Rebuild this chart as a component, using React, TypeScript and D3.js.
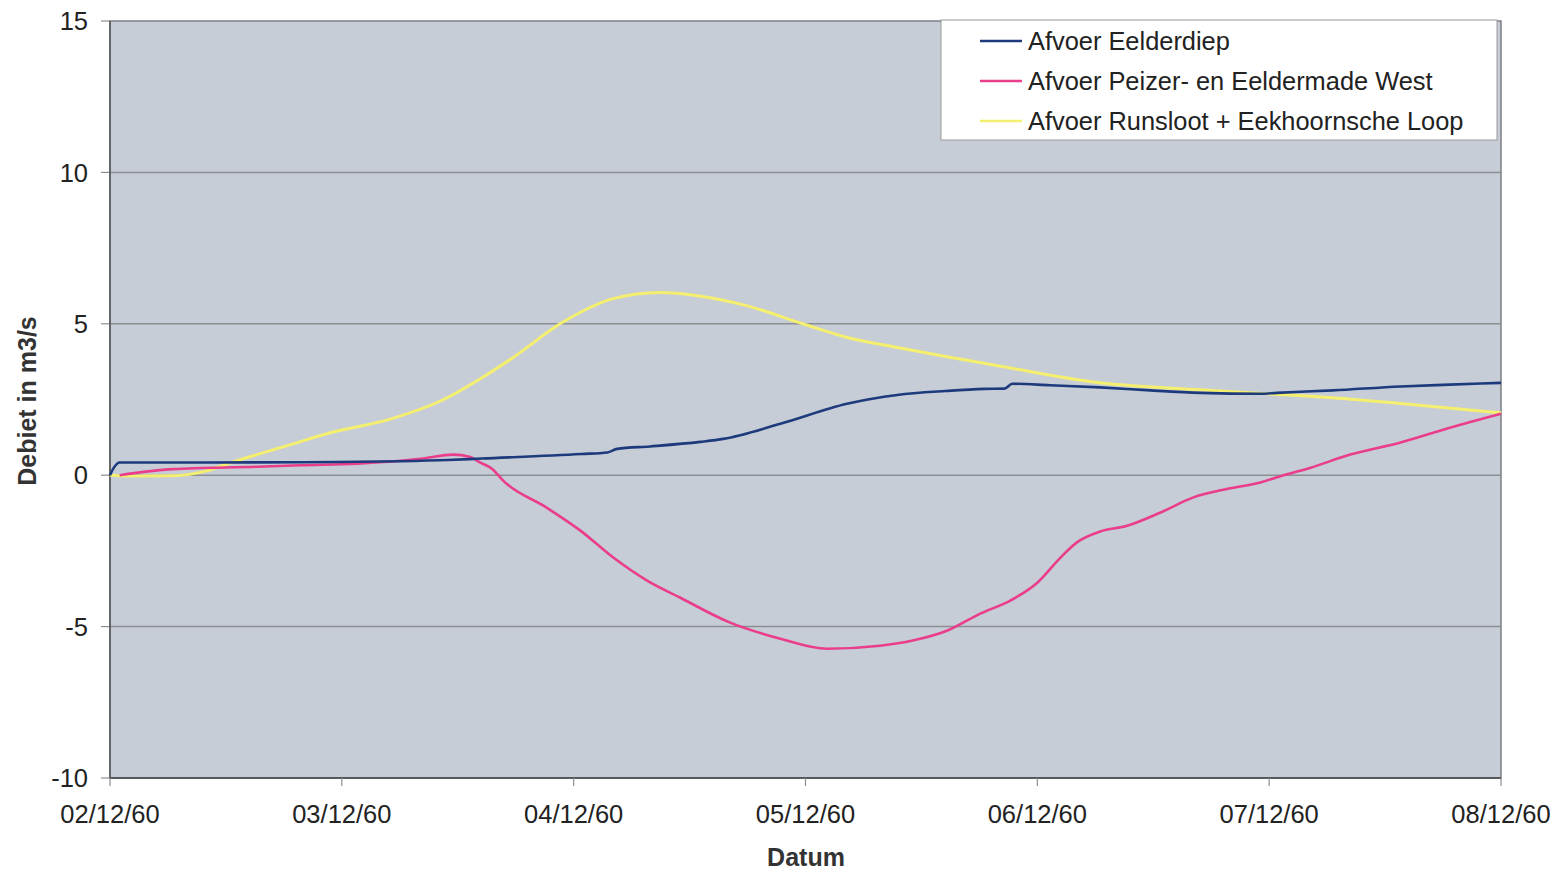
import React from "react";
import * as d3 from "d3";

// Hours since 02/12/60 00:00 and discharge (m3/s)
const eelderdiepHours = [0, 0.4, 1, 10, 20, 30, 35, 38.5, 48.8, 51.5, 52.5, 55.9, 61.1, 63.5, 69.4, 76.3, 81.5, 86.5, 90.5, 92.6, 93.4, 97.3, 102.5, 107.7, 112.9, 119.1, 120.8, 126.6, 133.6, 138.7, 144];
const eelderdiepValues = [0, 0.25, 0.42, 0.42, 0.43, 0.46, 0.5, 0.55, 0.7, 0.75, 0.87, 0.95, 1.1, 1.2, 1.7, 2.36, 2.65, 2.78, 2.85, 2.86, 3.02, 2.97, 2.9, 2.8, 2.72, 2.69, 2.72, 2.8, 2.93, 2.99, 3.05];

const peizerHours = [1, 6.5, 15.2, 19.7, 25.6, 32.4, 35.5, 37.3, 38.3, 39.6, 40.7, 45.2, 48.7, 52.1, 55.6, 59.0, 64.2, 69.4, 74.2, 79.7, 83.1, 86.7, 90.1, 93.2, 96.0, 98.4, 100.1, 102.5, 105.3, 108.7, 112.1, 115.7, 119.1, 121.5, 124.3, 128.4, 133.6, 138.7, 144];
const peizerValues = [0, 0.2, 0.28, 0.33, 0.38, 0.55, 0.68, 0.6, 0.42, 0.2, -0.18, -1.07, -1.83, -2.72, -3.48, -4.04, -4.87, -5.4, -5.73, -5.63, -5.46, -5.13, -4.57, -4.14, -3.55, -2.72, -2.22, -1.86, -1.67, -1.24, -0.74, -0.45, -0.24, 0.0, 0.25, 0.68, 1.08, 1.57, 2.03];

const runslootHours = [0, 3, 6.5, 10.1, 12.4, 18.6, 22.8, 29, 34.2, 38.3, 41.7, 46.6, 52.1, 56.9, 60.8, 65.9, 71.7, 76.3, 81.5, 90.1, 92.2, 102.5, 112.9, 119.8, 126.6, 133.6, 140.5, 144];
const runslootValues = [0, -0.03, -0.02, 0.15, 0.4, 1.0, 1.4, 1.85, 2.45, 3.18, 3.88, 5.0, 5.83, 6.03, 5.93, 5.6, 5.0, 4.55, 4.22, 3.72, 3.6, 3.05, 2.82, 2.69, 2.56, 2.37, 2.16, 2.06];

const dateTicks = [0, 24, 48, 72, 96, 120, 144];
const dateLabels = ["02/12/60", "03/12/60", "04/12/60", "05/12/60", "06/12/60", "07/12/60", "08/12/60"];
const valueTicks = [-10, -5, 0, 5, 10, 15];

const seriesNames = [
  "Afvoer Eelderdiep",
  "Afvoer Peizer- en Eeldermade West",
  "Afvoer Runsloot + Eekhoornsche Loop",
];
const seriesColors = ["#1d3a7c", "#ea3d8c", "#f4ef6e"];

const W = 1562;
const H = 874;
const left = 110;
const right = 1501;
const top = 21;
const bottom = 778;
const font = "Arial, 'Liberation Sans', sans-serif";

export default function App() {
  const x = d3.scaleLinear().domain([0, 144]).range([left, right]);
  const y = d3.scaleLinear().domain([-10, 15]).range([bottom, top]);

  const line = d3
    .line<[number, number]>()
    .x((d) => x(d[0]))
    .y((d) => y(d[1]))
    .curve(d3.curveMonotoneX);

  const series = [
    d3.zip(eelderdiepHours, eelderdiepValues) as [number, number][],
    d3.zip(peizerHours, peizerValues) as [number, number][],
    d3.zip(runslootHours, runslootValues) as [number, number][],
  ];

  // draw order: yellow first, then pink, blue on top
  const order = [2, 1, 0];

  return (
    <svg
      width={W}
      height={H}
      style={{ position: "absolute", left: 0, top: 0, background: "#fff" }}
      fontFamily={font}
    >
      <rect x={left} y={top} width={right - left} height={bottom - top} fill="#c7cdd6" />
      {valueTicks.map((v) => (
        <g key={v}>
          {v > -10 && v < 15 && (
            <line x1={left} x2={right} y1={y(v)} y2={y(v)} stroke="#8c8e92" strokeWidth={1.5} />
          )}
          <line x1={left - 9} x2={left} y1={y(v)} y2={y(v)} stroke="#8c8e92" strokeWidth={1.2} />
          <text x={88} y={y(v)} dy="0.36em" textAnchor="end" fontSize={25.5} fill="#222">
            {v}
          </text>
        </g>
      ))}
      <rect
        x={left}
        y={top}
        width={right - left}
        height={bottom - top}
        fill="none"
        stroke="#7d7f84"
        strokeWidth={1.5}
      />
      <line x1={left} x2={right} y1={bottom} y2={bottom} stroke="#444" strokeWidth={1.5} />
      <line x1={left} x2={left} y1={top} y2={bottom} stroke="#555" strokeWidth={1.5} />
      {dateTicks.map((t, i) => (
        <g key={t}>
          <line x1={x(t)} x2={x(t)} y1={bottom} y2={bottom + 8} stroke="#8c8e92" strokeWidth={1.2} />
          <text x={x(t)} y={823} textAnchor="middle" fontSize={25.5} fill="#222">
            {dateLabels[i]}
          </text>
        </g>
      ))}
      {order.map((i) => (
        <path
          key={i}
          d={line(series[i]) || ""}
          fill="none"
          stroke={seriesColors[i]}
          strokeWidth={i === 2 ? 3 : 2.6}
          strokeLinejoin="round"
        />
      ))}
      <text x={806} y={866} textAnchor="middle" fontSize={25} fontWeight="bold" fill="#333">
        Datum
      </text>
      <text
        transform={`translate(36,${401}) rotate(-90)`}
        textAnchor="middle"
        fontSize={25}
        fontWeight="bold"
        fill="#333"
      >
        Debiet in m3/s
      </text>
      <g>
        <rect x={941} y={20} width={556} height={120} fill="#fff" stroke="#9a9a9a" strokeWidth={1} />
        {seriesNames.map((name, i) => (
          <g key={name}>
            <line
              x1={980}
              x2={1022}
              y1={41 + i * 40}
              y2={41 + i * 40}
              stroke={seriesColors[i]}
              strokeWidth={2.4}
            />
            <text x={1028} y={41 + i * 40} dy="0.36em" fontSize={25.4} fill="#222">
              {name}
            </text>
          </g>
        ))}
      </g>
    </svg>
  );
}
